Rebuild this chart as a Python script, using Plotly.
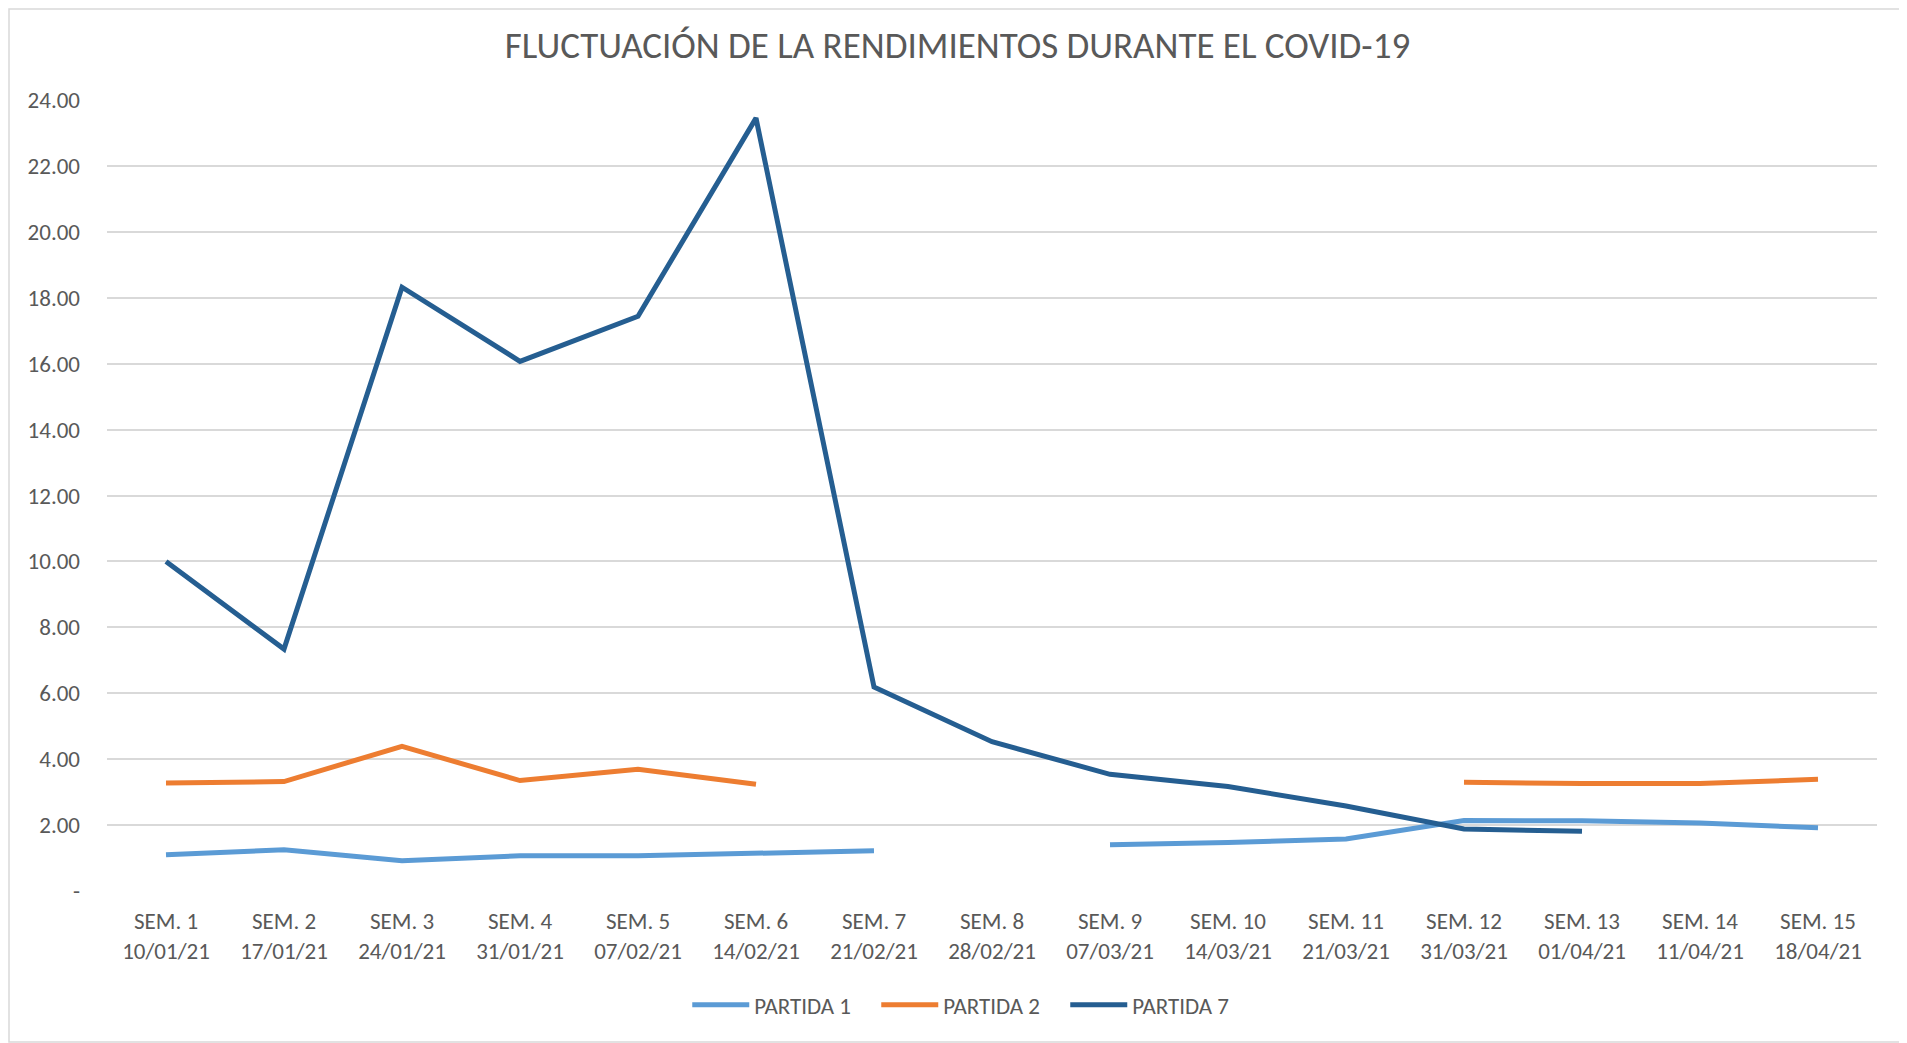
import plotly.graph_objects as go

# categorias del eje x
semanas = ["SEM. 1", "SEM. 2", "SEM. 3", "SEM. 4", "SEM. 5", "SEM. 6", "SEM. 7", "SEM. 8",
           "SEM. 9", "SEM. 10", "SEM. 11", "SEM. 12", "SEM. 13", "SEM. 14", "SEM. 15"]
fechas = ["10/01/21", "17/01/21", "24/01/21", "31/01/21", "07/02/21", "14/02/21", "21/02/21",
          "28/02/21", "07/03/21", "14/03/21", "21/03/21", "31/03/21", "01/04/21", "11/04/21", "18/04/21"]

# rendimientos por partida (None = sin dato)
partida_1 = [1.10, 1.25, 0.92, 1.07, 1.07, 1.14, 1.22, None, 1.40, 1.47, 1.58, 2.14, 2.13, 2.06, 1.92]
partida_2 = [3.28, 3.32, 4.39, 3.35, 3.69, 3.24, None, None, None, None, None, 3.30, 3.26, 3.26, 3.39]
partida_7 = [10.0, 7.34, 18.32, 16.07, 17.44, 23.45, 6.19, 4.53, 3.54, 3.17, 2.58, 1.88, 1.81, None, None]

y_ticks = [0, 2, 4, 6, 8, 10, 12, 14, 16, 18, 20, 22, 24]
y_text = ["-", "2.00", "4.00", "6.00", "8.00", "10.00", "12.00", "14.00",
          "16.00", "18.00", "20.00", "22.00", "24.00"]

etiquetas = [s + "<br>" + f for s, f in zip(semanas, fechas)]

FONT = "Carlito, Lato, sans-serif"
GRIS = "#595959"

# la pagina tiene 8px de margen, asi que la figura es un poco mas chica
W, H = 1899, 1035
L, R, T, B = 99, 30, 92, 152
pw, ph = W - L - R, H - T - B

fig = go.Figure()
fig.add_trace(go.Scatter(x=etiquetas, y=partida_1, name="PARTIDA 1", mode="lines",
                         line=dict(color="#5B9BD5", width=5)))
fig.add_trace(go.Scatter(x=etiquetas, y=partida_2, name="PARTIDA 2", mode="lines",
                         line=dict(color="#ED7D31", width=5)))
fig.add_trace(go.Scatter(x=etiquetas, y=partida_7, name="PARTIDA 7", mode="lines",
                         line=dict(color="#255E91", width=5)))

fig.update_layout(
    width=W, height=H,
    paper_bgcolor="white", plot_bgcolor="white",
    margin=dict(l=L, r=R, t=T, b=B),
    title=dict(text="FLUCTUACIÓN DE LA RENDIMIENTOS DURANTE EL COVID-19",
               x=0.5, xanchor="center", y=0.964, yanchor="middle",
               font=dict(family=FONT, size=37, color=GRIS)),
    font=dict(family=FONT, color=GRIS, size=23),
    legend=dict(orientation="h", x=0.488, xanchor="center", y=-0.144, yanchor="middle",
                font=dict(size=23, color=GRIS), itemwidth=57,
                entrywidth=117, entrywidthmode="pixels"),
    xaxis=dict(type="category", range=[-0.5, 14.5], showgrid=False, zeroline=False,
               showline=False, ticks="", tickfont=dict(size=23, color=GRIS),
               ticklabelstandoff=14),
    yaxis=dict(range=[0, 24], tickvals=y_ticks, ticktext=y_text, showgrid=True,
               gridcolor="#D9D9D9", gridwidth=1.5, zeroline=False, showline=False,
               tickfont=dict(size=23, color=GRIS), ticklabelstandoff=26),
    shapes=[dict(type="rect", xref="paper", yref="paper",
                 x0=-(L - 1) / pw, x1=1 + (R - 1) / pw, y0=-(B - 1) / ph, y1=1 + (T - 1) / ph,
                 line=dict(color="#D9D9D9", width=1.5))],
)

fig.write_html("out.html")
